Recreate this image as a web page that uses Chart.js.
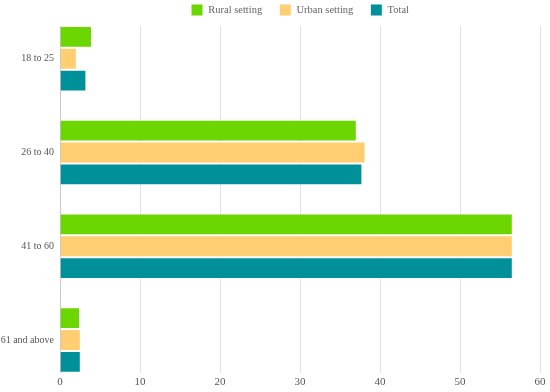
<!DOCTYPE html>
<html lang="en">
<head>
    <meta charset="UTF-8">
    <title>Age groups</title>
    <script src="https://cdn.jsdelivr.net/npm/chart.js@4/dist/chart.umd.min.js"></script>
    <style>
        html, body { margin: 0; padding: 0; background: #fff; }
        #wrap { width: 550px; height: 392px; }
    </style>
</head>
<body>
    <div id="wrap"><canvas id="grafica"></canvas></div>

    <script>
        // categorias y series
        const grupos = ['18 to 25', '26 to 40', '41 to 60', '61 and above'];
        const rural = [4.0, 37.1, 56.6, 2.5];
        const urbano = [2.1, 38.2, 56.6, 2.6];
        const total = [3.3, 37.8, 56.6, 2.6];
        const ticksX = [0, 10, 20, 30, 40, 50, 60];

        // margen de los grupos extremos (fraccion de una categoria)
        const BORDE = 0.35;

        const familia = "'Liberation Serif', serif";

        new Chart(document.getElementById('grafica'), {
            type: 'bar',
            data: {
                labels: grupos,
                datasets: [
                    { label: 'Rural setting', data: rural, backgroundColor: '#6cd600' },
                    { label: 'Urban setting', data: urbano, backgroundColor: '#ffcd72' },
                    { label: 'Total', data: total, backgroundColor: '#00909a' }
                ]
            },
            options: {
                indexAxis: 'y',
                responsive: true,
                maintainAspectRatio: false,
                animation: false,
                datasets: {
                    bar: {
                        categoryPercentage: 0.70,
                        barPercentage: 1,
                        borderWidth: 1,
                        borderColor: '#ffffff'
                    }
                },
                // la leyenda sube un poco, el padding de 17 la empuja hacia abajo
                layout: { padding: { left: 0, right: 10, top: -13, bottom: 0 } },
                plugins: {
                    legend: {
                        position: 'top',
                        fullSize: false,
                        labels: {
                            boxWidth: 12,
                            boxHeight: 12,
                            padding: 17,
                            color: '#666',
                            font: { family: familia, size: 10.5 }
                        }
                    },
                    tooltip: { enabled: false }
                },
                scales: {
                    x: {
                        min: 0,
                        max: 60,
                        afterBuildTicks: (eje) => { eje.ticks = ticksX.map(v => ({ value: v })); },
                        grid: { color: '#e2e2e2', drawTicks: false },
                        border: { display: false },
                        ticks: { color: '#555', font: { family: familia, size: 11 }, padding: 3 }
                    },
                    y: {
                        offset: true,
                        afterFit: (eje) => { eje.width = 60; },
                        afterBuildTicks: (eje) => {
                            eje._startValue = -BORDE;
                            eje._valueRange = grupos.length - 1 + 2 * BORDE;
                        },
                        grid: { display: false, drawTicks: false },
                        border: { display: true, color: '#c8c8c8' },
                        ticks: { color: '#555', font: { family: familia, size: 10 }, padding: 6 }
                    }
                }
            }
        });
    </script>
</body>
</html>
